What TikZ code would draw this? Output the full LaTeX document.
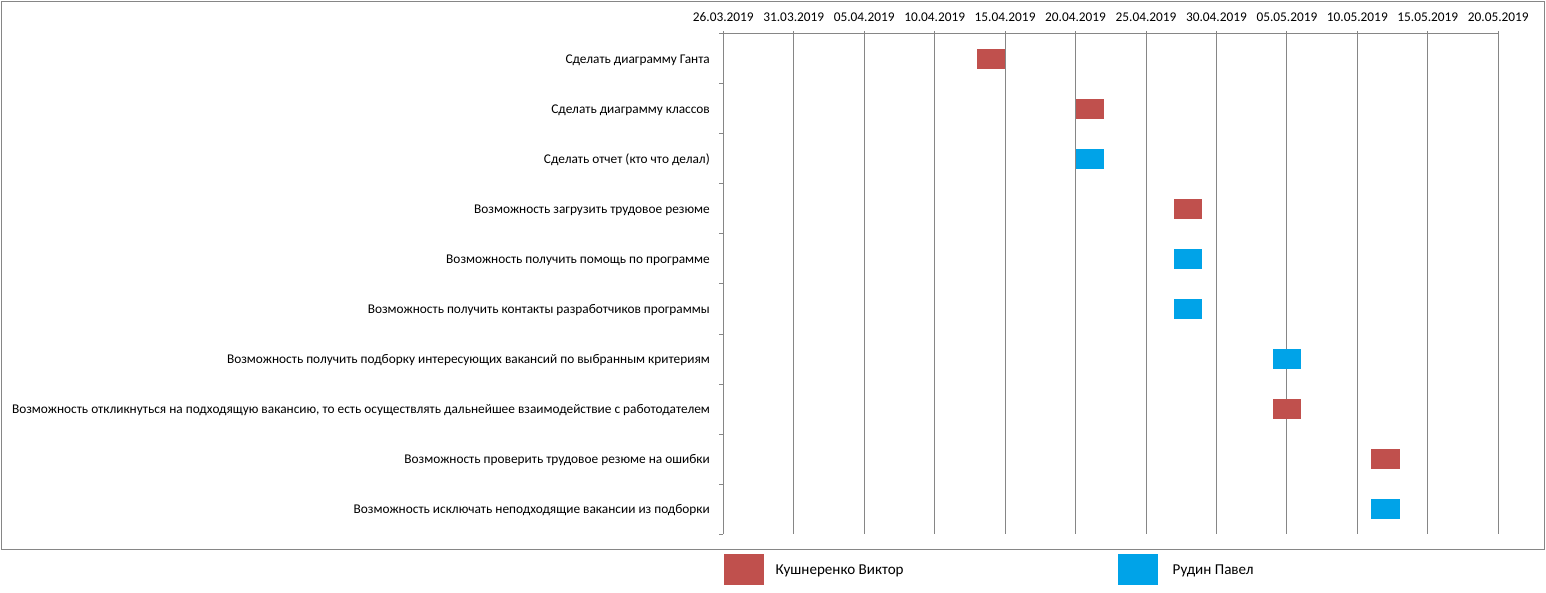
\documentclass[tikz,border=0pt]{standalone}
\usepackage{fontspec}
\setmainfont{Carlito}
\definecolor{barred}{HTML}{C0504D}
\definecolor{barblue}{HTML}{00A3E8}
\definecolor{axisgray}{HTML}{868686}
\begin{document}
\begin{tikzpicture}[x=1pt,y=-1pt,
  every node/.style={font=\fontsize{13.33}{16}\selectfont, inner sep=0pt},
  gline/.style={draw=axisgray, line width=1pt},
  task/.style={anchor=east},
  datelbl/.style={anchor=center},
  legtext/.style={anchor=west, font=\fontsize{15.1}{18}\selectfont},
  barr/.style={fill=barred, minimum width=28.2pt, minimum height=20pt},
  barb/.style={fill=barblue, minimum width=28.2pt, minimum height=20pt},
  legsq/.style={minimum width=40pt, minimum height=31pt}]
\useasboundingbox (0,0) rectangle (1546,593);
% frame
\draw[draw=axisgray, line width=1pt] (1,1.5) rectangle (1544.5,549);
% date axis
\coordinate (ax0) at (719,34);
\coordinate (ax1) at (1498.25,34);
\draw[gline] (ax0) -- (ax1);
\foreach \k/\d in {0/26.03.2019,1/31.03.2019,2/05.04.2019,3/10.04.2019,4/15.04.2019,5/20.04.2019,6/25.04.2019,7/30.04.2019,8/05.05.2019,9/10.05.2019,10/15.05.2019,11/20.05.2019}{
  \node[datelbl] (d\k) at ({723.3+70.45*\k},16.8) {\d};
  \coordinate (gt\k) at ({723.3+70.45*\k},31);
  \coordinate (gb\k) at ({723.3+70.45*\k},534);
  \draw[gline] (gt\k) -- (gb\k);
}
% category ticks
\foreach \i in {0,...,10}{
  \coordinate (tl\i) at (719,{34+50*\i});
  \coordinate (tr\i) at (723.3,{34+50*\i});
  \draw[gline] (tl\i) -- (tr\i);
}
% task labels
\node[task] (t1) at (710,60) {Сделать диаграмму Ганта};
\node[task] (t2) at (710,110) {Сделать диаграмму классов};
\node[task] (t3) at (710,160) {Сделать отчет (кто что делал)};
\node[task] (t4) at (710,210) {Возможность загрузить трудовое резюме};
\node[task] (t5) at (710,260) {Возможность получить помощь по программе};
\node[task] (t6) at (710,310) {Возможность получить контакты разработчиков программы};
\node[task] (t7) at (710,360) {Возможность получить подборку интересующих вакансий по выбранным критериям};
\node[task] (t8) at (710,410) {Возможность откликнуться на подходящую вакансию, то есть осуществлять дальнейшее взаимодействие с работодателем};
\node[task] (t9) at (710,460) {Возможность проверить трудовое резюме на ошибки};
\node[task] (t10) at (710,510) {Возможность исключать неподходящие вакансии из подборки};
% bars (centre = start day + 1)
\node[barr] (b1) at ({723.3+14.09*19},59) {};
\node[barr] (b2) at ({723.3+14.09*26},109) {};
\node[barb] (b3) at ({723.3+14.09*26},159) {};
\node[barr] (b4) at ({723.3+14.09*33},209) {};
\node[barb] (b5) at ({723.3+14.09*33},259) {};
\node[barb] (b6) at ({723.3+14.09*33},309) {};
\node[barb] (b7) at ({723.3+14.09*40},359) {};
\node[barr] (b8) at ({723.3+14.09*40},409) {};
\node[barr] (b9) at ({723.3+14.09*47},459) {};
\node[barb] (b10) at ({723.3+14.09*47},509) {};
% legend
\node[legsq, fill=barred] (lr) at (744,569.5) {};
\node[legtext] (lrt) at (775.5,571) {Кушнеренко Виктор};
\node[legsq, fill=barblue] (lb) at (1137.5,569.5) {};
\node[legtext] (lbt) at (1172.5,571) {Рудин Павел};
\end{tikzpicture}
\end{document}
